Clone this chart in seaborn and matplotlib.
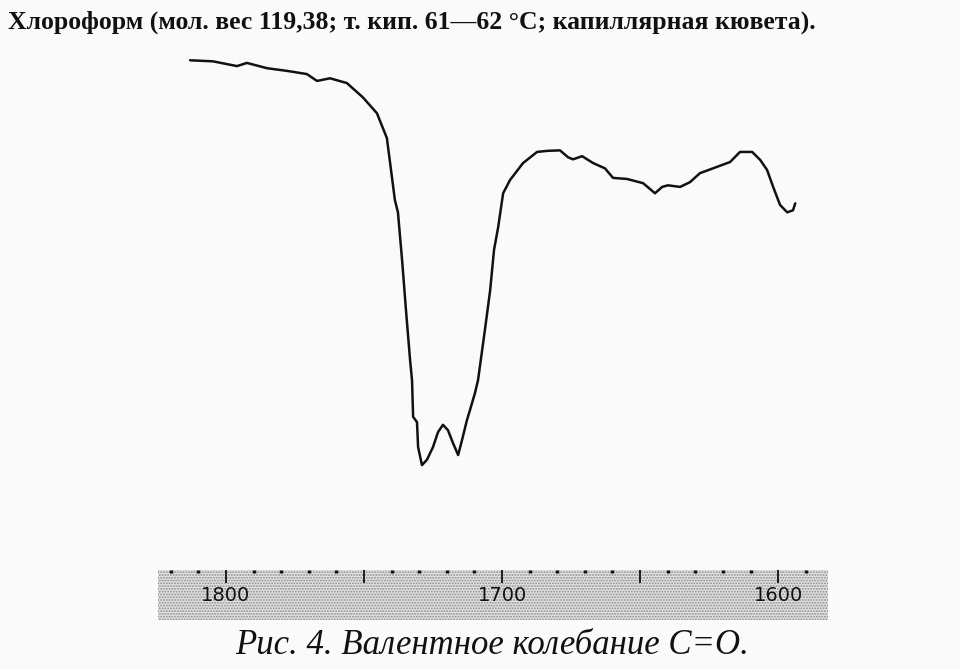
import numpy as np
import pandas as pd
import matplotlib
matplotlib.use("Agg")
import matplotlib.pyplot as plt
import matplotlib.transforms as mtransforms
import seaborn as sns

# IR spectrum (wavenumber, cm-1 / transmittance, %)
wavenumber = [1813.0, 1804.7, 1796.0, 1792.4, 1785.1, 1777.9, 1770.7, 1767.0,
              1762.3, 1756.2, 1750.4, 1745.3, 1741.7, 1738.8, 1737.7, 1736.2,
              1734.8, 1733.3, 1732.6, 1732.2, 1730.8, 1730.4, 1729.0, 1727.2,
              1725.0, 1723.2, 1721.4, 1719.6, 1717.8, 1715.9, 1714.5, 1712.7,
              1711.6, 1709.8, 1708.7, 1706.2, 1704.3, 1702.9, 1701.4, 1699.6,
              1697.1, 1692.4, 1687.3, 1683.7, 1679.0, 1676.1, 1674.3, 1671.0,
              1667.0, 1662.7, 1659.8, 1654.7, 1648.9, 1646.4, 1644.6, 1642.0,
              1639.9, 1635.5, 1631.9, 1628.3, 1623.6, 1617.4, 1613.8, 1609.4,
              1606.5, 1604.0, 1601.8, 1599.3, 1596.7, 1594.6, 1593.8]
transmittance = [96.2, 96.0, 95.1, 95.7, 94.7, 94.2, 93.6, 92.3,
                 92.8, 91.9, 89.2, 86.2, 81.5, 69.8, 67.5, 58.5,
                 49.1, 39.6, 35.8, 28.9, 27.9, 23.2, 19.8, 20.8,
                 23.2, 26.0, 27.4, 26.4, 24.0, 21.7, 24.5, 28.3,
                 30.2, 33.4, 35.8, 45.3, 52.8, 60.4, 64.7, 71.1,
                 73.6, 76.8, 78.9, 79.1, 79.2, 77.9, 77.5, 78.1,
                 76.8, 75.8, 74.0, 73.8, 73.0, 71.9, 71.1, 72.3,
                 72.6, 72.3, 73.2, 74.9, 75.8, 77.0, 78.9, 78.9,
                 77.4, 75.5, 72.3, 68.9, 67.5, 67.9, 69.2]

scale_labels = [1800, 1700, 1600]
scale_major = [1800, 1750, 1700, 1650, 1600]
scale_minor = list(range(1820, 1581, -10))

title = "Хлороформ (мол. вес 119,38; т. кип. 61—62 °С; капиллярная кювета)."
caption = "Рис. 4. Валентное колебание С=О."

df = pd.DataFrame({"wn": wavenumber, "T": transmittance})

sns.set_style("white")
plt.rcParams["hatch.color"] = "#8a8a8a"
plt.rcParams["hatch.linewidth"] = 0.9

fig = plt.figure(figsize=(9.6, 6.69), dpi=100)
fig.patch.set_facecolor("#fafafa")

xlim = (1824.6, 1581.9)

# spectrum
ax = fig.add_axes([0.1646, 0.148, 0.698, 0.792])
sns.lineplot(data=df, x="wn", y="T", ax=ax, color="#111111", linewidth=1.8,
             estimator=None)
ax.set_xlim(*xlim)
ax.set_ylim(0, 100)
ax.set_axis_off()

# dotted wavenumber scale strip
bx = fig.add_axes([0.1646, 0.0732, 0.698, 0.0747])
bx.set_xlim(*xlim)
bx.set_ylim(0, 1)
bx.set_facecolor("#e2e2e2")
bx.add_patch(plt.Rectangle((0, 0), 1, 1, transform=bx.transAxes,
                           facecolor="none", edgecolor="#8a8a8a", linewidth=0,
                           hatch="......", zorder=0))
for s in bx.spines.values():
    s.set_visible(False)
bx.set_yticks([])
bx.set_xticks(scale_major)
bx.set_xticks(scale_minor, minor=True)
bx.xaxis.set_ticks_position("top")
bx.tick_params(axis="x", which="major", direction="in", length=9, width=1.3,
               color="#111111", labeltop=False, labelbottom=False)
bx.tick_params(axis="x", which="minor", direction="in", length=2.5, width=2.5,
               color="#111111")
trans = mtransforms.blended_transform_factory(bx.transData, bx.transAxes)
for v in scale_labels:
    bx.text(v, 0.5, str(v), transform=trans, ha="center", va="center",
            fontsize=14, family="DejaVu Sans", color="#111111", zorder=3)

fig.text(0.008, 0.967, title, ha="left", va="center", fontsize=18.5,
         fontweight="bold", family="Liberation Serif", color="#111111")
fig.text(0.513, 0.035, caption, ha="center", va="center", fontsize=25,
         style="italic", family="Liberation Serif", color="#111111")

fig.savefig("out.png", dpi=100, facecolor=fig.get_facecolor())
